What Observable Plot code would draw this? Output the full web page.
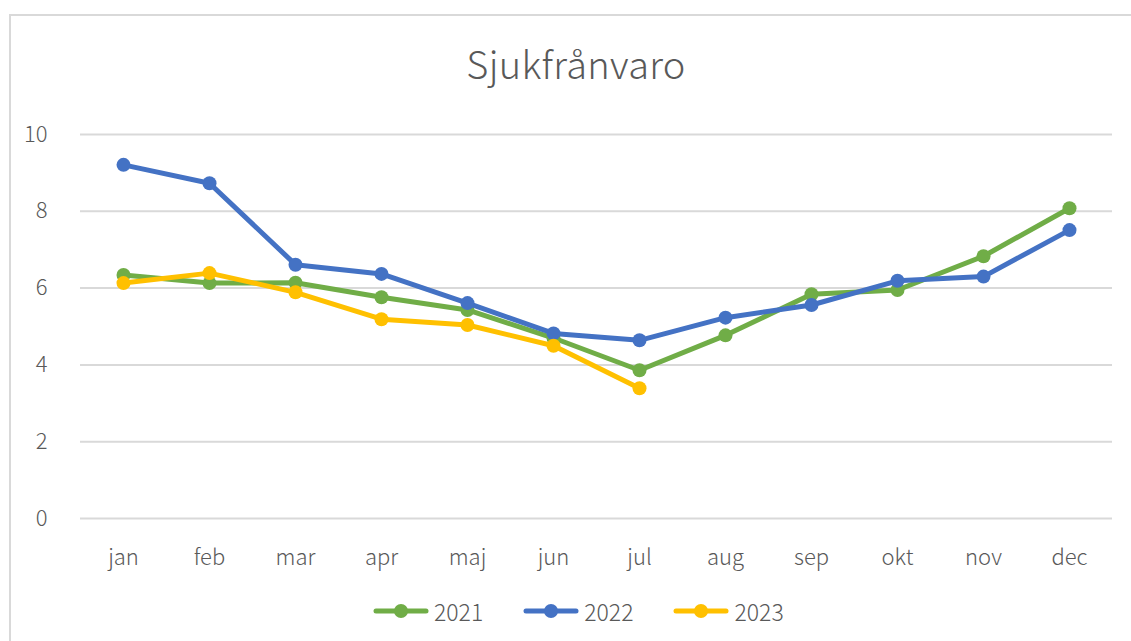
<!DOCTYPE html>
<html>
<head>
<meta charset="utf-8">
<script src="https://cdn.jsdelivr.net/npm/d3@7"></script>
<script src="https://cdn.jsdelivr.net/npm/@observablehq/plot@0.6"></script>
<style>
  html, body { margin: 0; padding: 0; background: #fff; }
  #wrap { position: relative; width: 1131px; height: 641px; overflow: hidden; font-family: "Noto Sans CJK JP", "Noto Sans", sans-serif; }
  #frame { position: absolute; left: 9px; top: 14px; width: 1140px; height: 650px; border: 2px solid #d9d9d9; box-sizing: border-box; }
  #title { position: absolute; left: 0; width: 1152px; top: 35px; text-align: center; font-size: 38px; font-weight: 300; color: #595959; letter-spacing: 0.3px; }
  #chart { position: absolute; left: 0; top: 110px; }
  #legend { position: absolute; left: 373px; top: 594px; display: flex; align-items: center; font-size: 23px; font-weight: 300; color: #595959; }
  .item { display: flex; align-items: center; margin-right: 40px; }
  .item svg { margin-right: 5px; }
</style>
</head>
<body>
<div id="wrap">
  <div id="frame"></div>
  <div id="title">Sjukfrånvaro</div>
  <div id="chart"></div>
  <div id="legend"></div>
</div>
<script>
const months = ["jan","feb","mar","apr","maj","jun","jul","aug","sep","okt","nov","dec"];
const series = ["2021","2022","2023"];
const colors = ["#70AD47","#4472C4","#FFC000"];
const v2021 = [6.34, 6.13, 6.14, 5.76, 5.43, 4.70, 3.86, 4.77, 5.84, 5.95, 6.83, 8.08];
const v2022 = [9.21, 8.73, 6.61, 6.37, 5.61, 4.82, 4.64, 5.23, 5.56, 6.19, 6.30, 7.51];
const v2023 = [6.13, 6.39, 5.89, 5.19, 5.04, 4.50, 3.39];
const yTicks = [0, 2, 4, 6, 8, 10];

const values = [v2021, v2022, v2023];
const data = [];
series.forEach((s, i) => values[i].forEach((v, j) => data.push({series: s, month: months[j], value: v})));

const marks = [Plot.ruleY(yTicks, {stroke: "#d9d9d9", strokeWidth: 2})];
series.forEach((s, i) => {
  const d = data.filter(r => r.series === s);
  marks.push(Plot.line(d, {x: "month", y: "value", stroke: colors[i], strokeWidth: 5, strokeLinejoin: "round", strokeLinecap: "round"}));
  marks.push(Plot.dot(d, {x: "month", y: "value", fill: colors[i], r: 7}));
});

const chart = Plot.plot({
  width: 1131,
  height: 468,
  marginLeft: 80,
  marginRight: 19,
  marginTop: 24,
  marginBottom: 60,
  style: {fontFamily: '"Noto Sans CJK JP", "Noto Sans", sans-serif', fontSize: "22px", fontWeight: 300, color: "#595959", background: "transparent"},
  x: {type: "point", domain: months, padding: 0.5, label: null, tickSize: 0, tickPadding: 31},
  y: {domain: [0, 10], ticks: yTicks, label: null, tickSize: 0, tickPadding: 33},
  marks
});
document.getElementById("chart").appendChild(chart);

const legend = document.getElementById("legend");
series.forEach((s, i) => {
  const item = document.createElement("div");
  item.className = "item";
  item.innerHTML = `<svg width="56" height="16"><line x1="3" y1="8" x2="53" y2="8" stroke="${colors[i]}" stroke-width="5" stroke-linecap="round"/><circle cx="28" cy="8" r="7" fill="${colors[i]}"/></svg><span>${s}</span>`;
  legend.appendChild(item);
});
</script>
</body>
</html>
